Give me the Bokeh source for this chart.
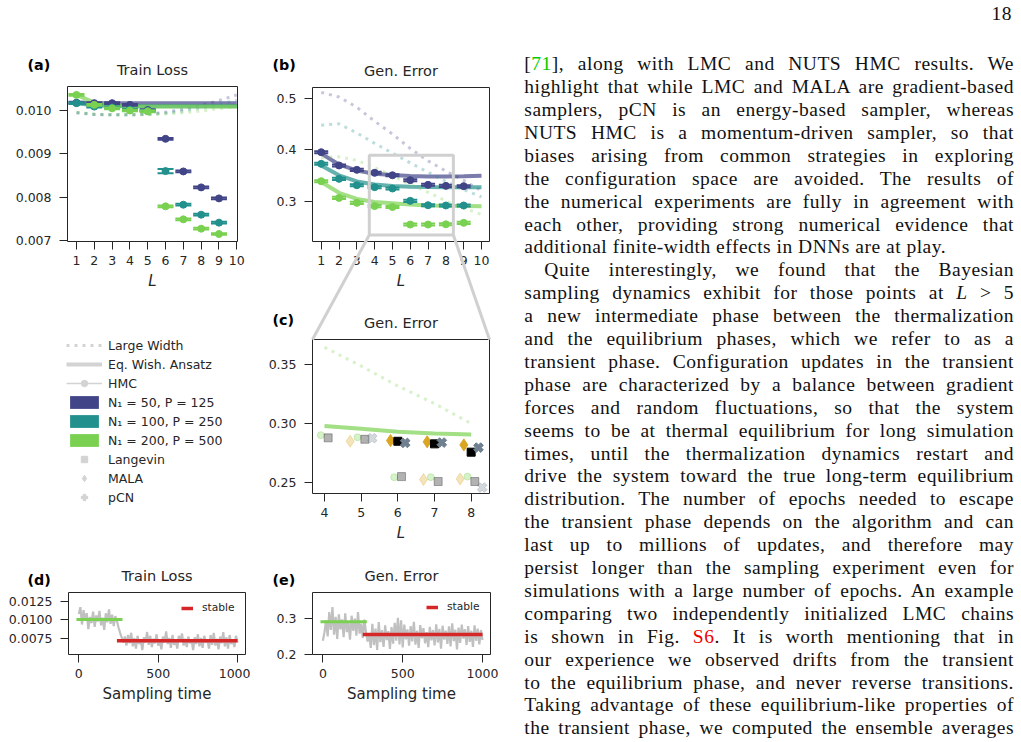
import math
from bokeh.plotting import figure
from bokeh.models import (Range1d, FixedTicker, PrintfTickFormatter,
                          Legend, LegendItem, Div)
from bokeh.core.properties import value
from bokeh.layouts import row, column
from bokeh.embed import file_html
from bokeh.resources import INLINE

FONT = "DejaVu Sans"
INK = "#262626"
C50, C100, C200 = "#414487", "#22908c", "#7ad151"
HANDLE = "#d3d3d3"
ZOOM_GRAY = "#d0d0d0"
TRACE = "#c0c0c0"
STABLE = "#d62728"
MALA_C = "#daa520"
PCN_C = "#708090"
LANG_C = "#000000"

# ---------------- depth sweeps ----------------
depth = [1, 2, 3, 4, 5, 6, 7, 8, 9, 10]
depth_hmc = [1, 2, 3, 4, 5, 6, 7, 8, 9]

# train loss: large-width theory (dotted)
loss_lw_50 = [0.00995, 0.00991, 0.00990, 0.00990, 0.00992, 0.00996, 0.01003, 0.01012, 0.01023, 0.01036]
loss_lw_100 = [0.00995, 0.00991, 0.00990, 0.00990, 0.00991, 0.00994, 0.00999, 0.01006, 0.01014, 0.01024]
loss_lw_200 = [0.00996, 0.00992, 0.00990, 0.00990, 0.00990, 0.00992, 0.00995, 0.00999, 0.01004, 0.01010]
# train loss: equilibrium Wishart ansatz (solid)
loss_ewa_50 = [0.01018, 0.01017, 0.01017, 0.01017, 0.01017, 0.01017, 0.01017, 0.01017, 0.01017, 0.01017]
loss_ewa_100 = [0.01017, 0.01012, 0.01011, 0.01010, 0.01010, 0.01010, 0.01010, 0.01010, 0.01010, 0.01010]
loss_ewa_200 = [0.01036, 0.01018, 0.01012, 0.01010, 0.01009, 0.01009, 0.01009, 0.01009, 0.01009, 0.01009]
# train loss: HMC
loss_hmc_50 = [0.01018, 0.01017, 0.01017, 0.01013, 0.01001, 0.009347, 0.008594, 0.008226, 0.007972]
loss_hmc_100 = [0.01017, 0.01009, 0.01007, 0.01002, 0.00999, 0.008602, 0.007826, 0.007596, 0.007412]
loss_hmc_200 = [0.01036, 0.01013, 0.01005, 0.01000, 0.00998, 0.007788, 0.007488, 0.007273, 0.007150]
loss_err_50 = [0.00002, 0.00002, 0.00002, 0.00002, 0.00002, 0.00002, 0.00002, 0.00002, 0.00002]
loss_err_100 = [0.00002, 0.00002, 0.00002, 0.00002, 0.00002, 0.00005, 0.00002, 0.00002, 0.00002]
loss_err_200 = [0.00002, 0.00002, 0.00002, 0.00002, 0.00002, 0.00002, 0.00002, 0.00002, 0.00002]

# generalization error: large-width theory (dotted)
gen_lw_50 = [0.511, 0.502, 0.482, 0.455, 0.430, 0.402, 0.378, 0.358, 0.340, 0.320]
gen_lw_100 = [0.447, 0.450, 0.432, 0.412, 0.393, 0.374, 0.356, 0.338, 0.322, 0.308]
gen_lw_200 = [0.384, 0.386, 0.379, 0.365, 0.349, 0.332, 0.317, 0.300, 0.286, 0.274]
# generalization error: equilibrium Wishart ansatz (solid)
gen_ewa_50 = [0.392, 0.371, 0.359, 0.353, 0.3505, 0.3485, 0.3478, 0.3478, 0.3482, 0.349]
gen_ewa_100 = [0.369, 0.350, 0.338, 0.332, 0.329, 0.3275, 0.327, 0.3268, 0.3268, 0.3268]
gen_ewa_200 = [0.337, 0.316, 0.304, 0.298, 0.2955, 0.293, 0.2915, 0.2906, 0.2903, 0.290]
# generalization error: HMC
gen_hmc_50 = [0.3948, 0.369, 0.3605, 0.3547, 0.350, 0.3405, 0.3314, 0.3294, 0.3288]
gen_hmc_100 = [0.3722, 0.343, 0.3307, 0.3269, 0.3243, 0.3003, 0.2919, 0.2913, 0.2913]
gen_hmc_200 = [0.3385, 0.3061, 0.2964, 0.2901, 0.2883, 0.2543, 0.2543, 0.2548, 0.2576]
gen_err_50 = [0.002, 0.002, 0.002, 0.002, 0.002, 0.002, 0.002, 0.002, 0.002]
gen_err_100 = [0.002, 0.002, 0.002, 0.002, 0.002, 0.002, 0.002, 0.002, 0.002]
gen_err_200 = [0.002, 0.002, 0.002, 0.002, 0.002, 0.002, 0.002, 0.002, 0.002]

# zoomed comparison of samplers, N1 = 200
zoom_depth = [4, 5, 6, 7, 8]
lang_eq_depth = [4, 5, 6, 7, 8]
lang_eq = [0.2878, 0.2866, 0.2548, 0.2506, 0.2506]
mala_eq_depth = [5, 7, 8]
mala_eq = [0.2849, 0.2523, 0.2528]
pcn_eq_depth = [5, 8]
pcn_eq = [0.2875, 0.2455]
transient_depth = [6, 7, 8]
lang_tr = [0.2849, 0.2827, 0.2756]
mala_tr = [0.2855, 0.2844, 0.2818]
pcn_tr = [0.2835, 0.2838, 0.2795]

# sampling-time traces (one sample every 10 steps)
train_trace = [
    0.0108, 0.0117, 0.0094, 0.0113, 0.0099, 0.0109, 0.0088, 0.0104, 0.0096, 0.0111,
    0.0091, 0.0106, 0.0098, 0.0112, 0.0093, 0.0103, 0.0087, 0.0109, 0.0097, 0.0114,
    0.0095, 0.0107, 0.0092, 0.0105, 0.0099, 0.0090,
    0.0083, 0.0077, 0.0070,
    0.0078, 0.0066, 0.0080, 0.0069, 0.0083, 0.0065, 0.0076, 0.0062, 0.0079, 0.0068,
    0.0074, 0.0060, 0.0077, 0.0070, 0.0084, 0.0067, 0.0079, 0.0064, 0.0075, 0.0069,
    0.0081, 0.0066, 0.0073, 0.0061, 0.0078, 0.0070, 0.0085, 0.0068, 0.0076, 0.0063,
    0.0080, 0.0067, 0.0074, 0.0062, 0.0079, 0.0071, 0.0082, 0.0066, 0.0075, 0.0064,
    0.0078, 0.0069, 0.0073, 0.0060, 0.0077, 0.0068, 0.0081, 0.0065, 0.0076, 0.0063,
    0.0079, 0.0070, 0.0074, 0.0062, 0.0080, 0.0067, 0.0083, 0.0066, 0.0075, 0.0061,
    0.0078, 0.0069, 0.0084, 0.0065, 0.0077, 0.0062, 0.0080, 0.0068, 0.0074, 0.0064,
    0.0079, 0.0070,
]
gen_trace = [
    0.238, 0.262, 0.295, 0.250, 0.318, 0.268, 0.332, 0.255, 0.305, 0.243,
    0.312, 0.270, 0.298, 0.248, 0.315, 0.262, 0.290, 0.241, 0.308, 0.266,
    0.300, 0.252, 0.318, 0.258, 0.286, 0.246, 0.297,
    0.262, 0.236, 0.258,
    0.218, 0.285, 0.226, 0.272, 0.212, 0.290, 0.234, 0.268, 0.221, 0.281,
    0.240, 0.265, 0.215, 0.276, 0.230, 0.288, 0.238, 0.302, 0.228, 0.295,
    0.219, 0.283, 0.242, 0.270, 0.224, 0.279, 0.236, 0.291, 0.227, 0.266,
    0.218, 0.282, 0.245, 0.273, 0.231, 0.262, 0.220, 0.277, 0.239, 0.268,
    0.225, 0.284, 0.233, 0.271, 0.216, 0.280, 0.241, 0.266, 0.229, 0.278,
    0.222, 0.287, 0.237, 0.269, 0.214, 0.275, 0.232, 0.283, 0.244, 0.270,
    0.226, 0.279, 0.235, 0.266, 0.221, 0.281, 0.238, 0.272, 0.228, 0.268,
    0.240,
]
trace_step = 10
# plateau fits: [start, end] in sampling time and level
train_transient_span, train_transient_level = [-15, 275], 0.01008
train_stable_span, train_stable_level = [240, 1000], 0.00724
gen_transient_span, gen_transient_level = [-15, 275], 0.291
gen_stable_span, gen_stable_level = [250, 1000], 0.2554

# inset region marked on panel (b)
inset_box = [3.70, 8.42, 0.234, 0.389]  # left, right, bottom, top

# ---------------- page text ----------------
page_number = "18"
text_lines = [
    ('[<span style="color:#00cc00">71</span>], along with LMC and NUTS HMC results. We', "j"),
    ("highlight that while LMC and MALA are gradient-based", "j"),
    ("samplers, pCN is an energy-based sampler, whereas", "j"),
    ("NUTS HMC is a momentum-driven sampler, so that", "j"),
    ("biases arising from common strategies in exploring", "j"),
    ("the configuration space are avoided. The results of", "j"),
    ("the numerical experiments are fully in agreement with", "j"),
    ("each other, providing strong numerical evidence that", "j"),
    ("additional finite-width effects in DNNs are at play.", "e"),
    ("Quite interestingly, we found that the Bayesian", "i"),
    ("sampling dynamics exhibit for those points at <i>L</i> &gt; 5", "j"),
    ("a new intermediate phase between the thermalization", "j"),
    ("and the equilibrium phases, which we refer to as a", "j"),
    ("transient phase. Configuration updates in the transient", "j"),
    ("phase are characterized by a balance between gradient", "j"),
    ("forces and random fluctuations, so that the system", "j"),
    ("seems to be at thermal equilibrium for long simulation", "j"),
    ("times, until the thermalization dynamics restart and", "j"),
    ("drive the system toward the true long-term equilibrium", "j"),
    ("distribution. The number of epochs needed to escape", "j"),
    ("the transient phase depends on the algorithm and can", "j"),
    ("last up to millions of updates, and therefore may", "j"),
    ("persist longer than the sampling experiment even for", "j"),
    ("simulations with a large number of epochs. An example", "j"),
    ("comparing two independently initialized LMC chains", "j"),
    ('is shown in Fig. <span style="color:#ee0000">S6</span>. It is worth mentioning that in', "j"),
    ("our experience we observed drifts from the transient", "j"),
    ("to the equilibrium phase, and never reverse transitions.", "j"),
    ("Taking advantage of these equilibrium-like properties of", "j"),
    ("the transient phase, we computed the ensemble averages", "j"),
]


# ---------------- helpers ----------------
def make_panel(canvas, frame, xr, yr):
    cx, cy, cw, ch = canvas
    fl, ft, fr, fb = frame
    p = figure(width=cw, height=ch, x_range=Range1d(*xr), y_range=Range1d(*yr),
               min_border_left=fl - cx, min_border_right=cx + cw - fr,
               min_border_top=ft - cy, min_border_bottom=cy + ch - fb,
               output_backend="svg", toolbar_location=None, tools="",
               background_fill_color="white", border_fill_color="white")
    p.frame_align = False
    p.grid.visible = False
    p.outline_line_color = INK
    p.outline_line_width = 1
    p.outline_line_alpha = 1
    return {"fig": p, "frame": frame, "xr": xr, "yr": yr}


def style_axes(pn, xticks, yticks, yfmt, xlabel, xlabel_italic):
    p = pn["fig"]
    p.xaxis.ticker = FixedTicker(ticks=xticks)
    p.yaxis.ticker = FixedTicker(ticks=yticks)
    p.yaxis.formatter = PrintfTickFormatter(format=yfmt)
    for ax in (p.xaxis[0], p.yaxis[0]):
        ax.axis_line_color = None
        ax.major_tick_line_color = INK
        ax.major_tick_line_width = 1
        ax.major_tick_out = 8
        ax.major_tick_in = 0
        ax.minor_tick_line_color = None
        ax.major_label_text_font = FONT
        ax.major_label_text_font_size = "12.5px"
        ax.major_label_text_color = INK
    p.xaxis.major_label_standoff = 6
    p.yaxis.major_label_standoff = 8
    p.xaxis.axis_label = xlabel
    p.xaxis.axis_label_text_font = FONT
    p.xaxis.axis_label_text_font_size = "15px"
    p.xaxis.axis_label_text_font_style = "italic" if xlabel_italic else "normal"
    p.xaxis.axis_label_text_color = INK
    p.xaxis.axis_label_standoff = 4


def set_title(pn, text):
    t = pn["fig"].title
    t.text = text
    t.align = "center"
    t.text_font = FONT
    t.text_font_size = "14.5px"
    t.text_font_style = "normal"
    t.text_color = INK
    t.standoff = 18


def to_data(pn, px, py):
    fl, ft, fr, fb = pn["frame"]
    x0, x1 = pn["xr"]
    y0, y1 = pn["yr"]
    return (x0 + (px - fl) / (fr - fl) * (x1 - x0),
            y0 + (fb - py) / (fb - ft) * (y1 - y0))


def to_page(pn, x, y):
    fl, ft, fr, fb = pn["frame"]
    x0, x1 = pn["xr"]
    y0, y1 = pn["yr"]
    return (fl + (x - x0) / (x1 - x0) * (fr - fl),
            fb - (y - y0) / (y1 - y0) * (fb - ft))


def panel_tag(pn, text, px, py):
    # bold panel letter, drawn above the plot area at the overlay level
    x, y = to_data(pn, px, py)
    pn["fig"].text(x=[x], y=[y], text=[text], text_font=value(FONT),
                   text_font_size=value("14.3px"), text_font_style="bold",
                   text_color="black", text_align="left", text_baseline="middle",
                   level="overlay")


def hmc_points(p, xs, ys, errs, color, cap):
    lo = [y - e for y, e in zip(ys, errs)]
    hi = [y + e for y, e in zip(ys, errs)]
    p.segment(x0=xs, y0=lo, x1=xs, y1=hi, line_color=color, line_width=1.5)
    p.scatter(xs, lo, marker="dash", size=cap, line_color=color, line_width=2)
    p.scatter(xs, hi, marker="dash", size=cap, line_color=color, line_width=2)
    p.scatter(xs, ys, marker="circle", size=7, fill_color=color, line_color=color)


def theory_lines(p, xs, lw, ewa, color):
    p.line(xs, lw, line_color=color, line_alpha=0.3, line_width=3, line_dash="3 5")
    p.line(xs, ewa, line_color=color, line_alpha=0.7, line_width=4)


# ---------------- (a) train loss vs depth ----------------
pa = make_panel((0, 0, 250, 300), (67, 86, 237, 241), (0.4947, 10.04), (0.006977, 0.010554))
style_axes(pa, depth, [0.007, 0.008, 0.009, 0.010], "%.3f", "L", True)
set_title(pa, "Train Loss")
panel_tag(pa, "(a)", 27, 64.5)
for lw, ewa, c in ((loss_lw_50, loss_ewa_50, C50), (loss_lw_100, loss_ewa_100, C100),
                   (loss_lw_200, loss_ewa_200, C200)):
    theory_lines(pa["fig"], depth, lw, ewa, c)
for ys, es, c in ((loss_hmc_50, loss_err_50, C50), (loss_hmc_100, loss_err_100, C100),
                  (loss_hmc_200, loss_err_200, C200)):
    hmc_points(pa["fig"], depth_hmc, ys, es, c, 16)

# ---------------- (b) generalization error vs depth ----------------
pb = make_panel((250, 0, 250, 300), (312, 87, 489, 241), (0.511, 10.449), (0.2214, 0.5204))
style_axes(pb, depth, [0.3, 0.4, 0.5], "%.1f", "L", True)
set_title(pb, "Gen. Error")
panel_tag(pb, "(b)", 272, 64.5)
for lw, ewa, c in ((gen_lw_50, gen_ewa_50, C50), (gen_lw_100, gen_ewa_100, C100),
                   (gen_lw_200, gen_ewa_200, C200)):
    theory_lines(pb["fig"], depth, lw, ewa, c)
for ys, es, c in ((gen_hmc_50, gen_err_50, C50), (gen_hmc_100, gen_err_100, C100),
                  (gen_hmc_200, gen_err_200, C200)):
    hmc_points(pb["fig"], depth_hmc, ys, es, c, 14)
bl, br, bb, bt = inset_box
pb["fig"].quad(left=[bl], right=[br], bottom=[bb], top=[bt], fill_color=None,
               line_color=ZOOM_GRAY, line_width=3, level="overlay")

# ---------------- (c) zoom on N1 = 200 with all samplers ----------------
pc = make_panel((250, 300, 250, 250), (312, 339, 489, 493), (3.673, 8.5), (0.2404, 0.3716))
style_axes(pc, zoom_depth, [0.25, 0.30, 0.35], "%.2f", "L", True)
set_title(pc, "Gen. Error")
panel_tag(pc, "(c)", 272, 319)
i0, i1 = depth.index(zoom_depth[0]), depth.index(zoom_depth[-1]) + 1
theory_lines(pc["fig"], zoom_depth, gen_lw_200[i0:i1], gen_ewa_200[i0:i1], C200)
fc = pc["fig"]
EQ_OFF = {"mala": -0.3, "hmc": -0.1, "lang": 0.1, "pcn": 0.3}
TR_OFF = {"mala": -0.2, "lang": 0.0, "pcn": 0.2}
fc.scatter([d + EQ_OFF["hmc"] for d in zoom_depth], gen_hmc_200[i0:i1], marker="circle",
           size=7, color=C200, alpha=0.3)
fc.scatter([d + EQ_OFF["lang"] for d in lang_eq_depth], lang_eq, marker="square",
           size=8, color=LANG_C, alpha=0.3)
fc.scatter([d + EQ_OFF["mala"] for d in mala_eq_depth], mala_eq, marker="diamond",
           size=12, color=MALA_C, alpha=0.3)
fc.scatter([d + EQ_OFF["pcn"] for d in pcn_eq_depth], pcn_eq, marker="plus",
           angle=math.pi / 4, size=10, color=PCN_C, alpha=0.3)
fc.scatter([d + TR_OFF["mala"] for d in transient_depth], mala_tr, marker="diamond",
           size=12, color=MALA_C)
fc.scatter([d + TR_OFF["lang"] for d in transient_depth], lang_tr, marker="square",
           size=8, color=LANG_C)
fc.scatter([d + TR_OFF["pcn"] for d in transient_depth], pcn_tr, marker="plus",
           angle=math.pi / 4, size=10, color=PCN_C)

# connectors from the inset box on (b) to the frame of (c)
c_tl = to_page(pc, pc["xr"][0], pc["yr"][1])
c_tr = to_page(pc, pc["xr"][1], pc["yr"][1])
b_bl = to_page(pb, bl, bb)
b_br = to_page(pb, br, bb)
for (bx, by), (cx_, cy_) in ((b_bl, c_tl), (b_br, c_tr)):
    xb0, yb0 = to_data(pb, bx, by)
    xb1, yb1 = to_data(pb, cx_, cy_)
    pb["fig"].line([xb0, xb1], [yb0, yb1], line_color=ZOOM_GRAY, line_width=3, level="overlay")
    xc0, yc0 = to_data(pc, bx, by)
    xc1, yc1 = to_data(pc, cx_, cy_)
    fc.line([xc0, xc1], [yc0, yc1], line_color=ZOOM_GRAY, line_width=3, level="overlay")

# ---------------- legend panel ----------------
leg = figure(width=250, height=250, x_range=Range1d(0, 1), y_range=Range1d(0, 1),
             x_axis_type=None, y_axis_type=None, min_border=0,
             output_backend="svg", toolbar_location=None, tools="",
             background_fill_color="white", border_fill_color="white")
leg.frame_align = False
leg.outline_line_color = None
off_x, off_y = [-5, -4], [-5, -5]
r_lw = leg.line(off_x, off_y, line_color=HANDLE, line_width=3, line_dash="3 5")
r_ewa = leg.line(off_x, off_y, line_color=HANDLE, line_width=4)
r_hmc_l = leg.line(off_x, off_y, line_color=HANDLE, line_width=1.5)
r_hmc_m = leg.scatter(off_x, off_y, marker="circle", size=7, color=HANDLE)
r_50 = leg.quad(left=[-5], right=[-4], bottom=[-5], top=[-4], fill_color=C50, line_color=None)
r_100 = leg.quad(left=[-5], right=[-4], bottom=[-5], top=[-4], fill_color=C100, line_color=None)
r_200 = leg.quad(left=[-5], right=[-4], bottom=[-5], top=[-4], fill_color=C200, line_color=None)
r_lang = leg.scatter(off_x, off_y, marker="square", size=8, color=HANDLE)
r_mala = leg.scatter(off_x, off_y, marker="diamond", size=12, color=HANDLE)
r_pcn = leg.scatter(off_x, off_y, marker="plus", angle=math.pi / 4, size=10, color=HANDLE)
main_legend = Legend(items=[
    LegendItem(label="Large Width", renderers=[r_lw]),
    LegendItem(label="Eq. Wish. Ansatz", renderers=[r_ewa]),
    LegendItem(label="HMC", renderers=[r_hmc_l, r_hmc_m]),
    LegendItem(label="N\u2081 = 50, P = 125", renderers=[r_50]),
    LegendItem(label="N\u2081 = 100, P = 250", renderers=[r_100]),
    LegendItem(label="N\u2081 = 200, P = 500", renderers=[r_200]),
    LegendItem(label="Langevin", renderers=[r_lang]),
    LegendItem(label="MALA", renderers=[r_mala]),
    LegendItem(label="pCN", renderers=[r_pcn]),
], location=(66, 45), padding=0, margin=0, spacing=3, glyph_width=36,
    glyph_height=16, label_height=16, label_standoff=6,
    label_text_font=FONT, label_text_font_size="12.5px", label_text_color=INK,
    border_line_color=None, background_fill_alpha=0)
leg.add_layout(main_legend)

# ---------------- (d), (e) sampling-time traces ----------------
steps = [trace_step * i for i in range(len(train_trace))]


def trace_panel(canvas, frame, yr, yticks, yfmt, title, tag, tag_xy, trace,
                t_span, t_level, s_span, s_level, leg_loc):
    pn = make_panel(canvas, frame, (-65, 1050), yr)
    style_axes(pn, [0, 500, 1000], yticks, yfmt, "Sampling time", False)
    set_title(pn, title)
    panel_tag(pn, tag, *tag_xy)
    p = pn["fig"]
    p.line(steps, trace, line_color=TRACE, line_width=2.2)
    p.line(t_span, [t_level, t_level], line_color=C200, line_width=3)
    r = p.line(s_span, [s_level, s_level], line_color=STABLE, line_width=3.5)
    lg = Legend(items=[LegendItem(label="stable", renderers=[r])], location=leg_loc,
                padding=0, margin=0, spacing=0, glyph_width=12, glyph_height=12,
                label_height=12, label_standoff=9, label_text_font=FONT,
                label_text_font_size="10.7px", label_text_color=INK,
                border_line_color=None, background_fill_alpha=0)
    p.add_layout(lg)
    return pn


pd_ = trace_panel((0, 550, 250, 192), (68, 592, 245, 654), (0.005412, 0.013657),
                  [0.0075, 0.0100, 0.0125], "%.4f", "Train Loss", "(d)", (27, 579),
                  train_trace, train_transient_span, train_transient_level,
                  train_stable_span, train_stable_level, (113, 40))
pe_ = trace_panel((250, 550, 250, 192), (312, 592, 490, 654), (0.1995, 0.373),
                  [0.2, 0.3], "%.1f", "Gen. Error", "(e)", (272, 579.5),
                  gen_trace, gen_transient_span, gen_transient_level,
                  gen_stable_span, gen_stable_level, (114, 41))

# ---------------- text column ----------------
TEXT_LEFT = 24.3
TEXT_WIDTH = 489.7
LINE_STEP = 22.9
TEXT_TOP = 53.2
INDENT = 20
parts = ['<div style="position:absolute;right:9px;top:2.5px;line-height:22.9px">%s</div>' % page_number]
for i, (html, kind) in enumerate(text_lines):
    top = TEXT_TOP + i * LINE_STEP
    left = TEXT_LEFT + (INDENT if kind == "i" else 0)
    width = TEXT_WIDTH - (INDENT if kind == "i" else 0)
    align = "left" if kind == "e" else "justify"
    parts.append(
        '<div style="position:absolute;left:%.1fpx;top:%.2fpx;width:%.1fpx;height:%.1fpx;'
        'line-height:%.1fpx;text-align:%s;text-align-last:%s;overflow:hidden">%s</div>'
        % (left, top, width, LINE_STEP, LINE_STEP, align, align, html))
page_html = ('<div style="position:relative;width:521px;height:742px;overflow:hidden;'
             "font-family:'Liberation Serif',serif;font-size:19.5px;letter-spacing:0.5px;"
             'color:#111">' + "".join(parts) + "</div>")
text_div = Div(text=page_html, width=521, height=742, margin=0)

left_block = column(row(pa["fig"], pb["fig"]), row(leg, pc["fig"]), row(pd_["fig"], pe_["fig"]))
page = row(left_block, text_div)

with open("out.html", "w") as f:
    f.write(file_html(page, INLINE))
